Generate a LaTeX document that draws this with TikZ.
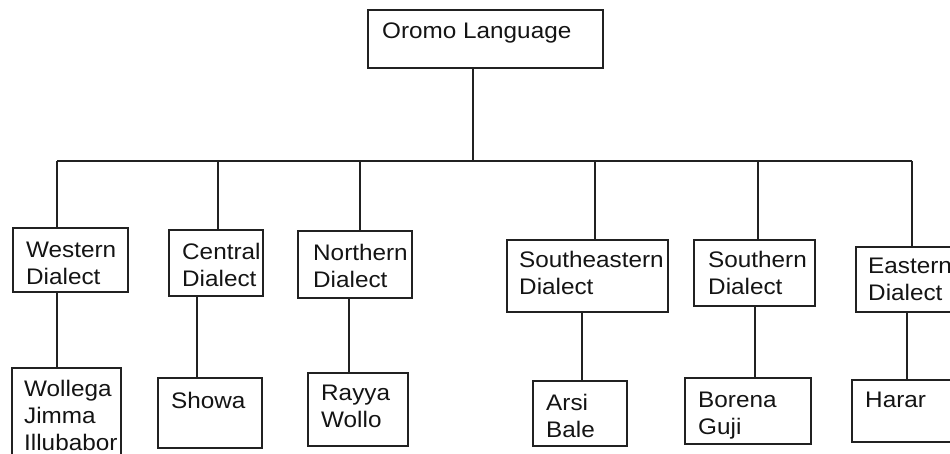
\documentclass[tikz,border=0pt]{standalone}
\usepackage{fontspec}
\setmainfont{Liberation Sans}[FakeStretch=1.08]
\begin{document}
\begin{tikzpicture}[x=1pt,y=-1pt,
  box/.style={draw=black!87, line width=1.1pt, anchor=north west, inner sep=0pt, outer sep=0pt},
  lbl/.style={anchor=north west, inner sep=0pt, align=left, text=black!92, font=\fontsize{22.5}{27}\selectfont},
  link/.style={draw=black!87, line width=1.1pt}]
\useasboundingbox (0,0) rectangle (950,454);
\clip (0,0) rectangle (950,454);
% boxes
\node[box, minimum width=235pt, minimum height=58pt] (top) at (368,10) {};
\node[box, minimum width=115pt, minimum height=64pt] (western) at (13,228) {};
\node[box, minimum width=94pt, minimum height=66pt] (central) at (169,230) {};
\node[box, minimum width=114pt, minimum height=67pt] (northern) at (298,231) {};
\node[box, minimum width=161pt, minimum height=72pt] (southeastern) at (507,240) {};
\node[box, minimum width=121pt, minimum height=66pt] (southern) at (694,240) {};
\node[box, minimum width=104pt, minimum height=65pt] (eastern) at (856,247) {};
\node[box, minimum width=109pt, minimum height=102pt] (wollega) at (12,368) {};
\node[box, minimum width=104pt, minimum height=70pt] (showa) at (158,378) {};
\node[box, minimum width=100pt, minimum height=73pt] (rayya) at (308,373) {};
\node[box, minimum width=94pt, minimum height=65pt] (arsi) at (533,381) {};
\node[box, minimum width=126pt, minimum height=66pt] (borena) at (685,378) {};
\node[box, minimum width=108pt, minimum height=62pt] (harar) at (852,380) {};
% texts
\node[lbl] (topT) at (382,22.5) {Oromo Language};
\node[lbl] (westernT) at (26,241.5) {Western\\Dialect};
\node[lbl] (centralT) at (182,242.5) {Central\\Dialect};
\node[lbl] (northernT) at (313,243.5) {Northern\\Dialect};
\node[lbl] (southeasternT) at (519,251) {Southeastern\\Dialect};
\node[lbl] (southernT) at (708,251) {Southern\\Dialect};
\node[lbl] (easternT) at (868,258) {Eastern\\Dialect};
\node[lbl] (wollegaT) at (24,380) {Wollega\\Jimma\\Illubabor};
\node[lbl] (showaT) at (171,391.5) {Showa};
\node[lbl] (rayyaT) at (321,384.5) {Rayya\\Wollo};
\node[lbl] (arsiT) at (546,393.5) {Arsi\\Bale};
\node[lbl] (borenaT) at (698,391.5) {Borena\\Guji};
\node[lbl] (hararT) at (865,391.5) {Harar};
% bus coordinates
\coordinate (bT) at (473,161);
\coordinate (bW) at (57,161);
\coordinate (bC) at (218,161);
\coordinate (bN) at (360,161);
\coordinate (bSE) at (595,161);
\coordinate (bS) at (758,161);
\coordinate (bE) at (912,161);
% lower link x positions
\coordinate (xW) at (57,0);
\coordinate (xC) at (197,0);
\coordinate (xN) at (349,0);
\coordinate (xSE) at (582,0);
\coordinate (xS) at (755,0);
\coordinate (xE) at (907,0);
% connectors
\draw[link] (top.south -| bT) -- (bT);
\draw[link] (bW) -- (bE);
\draw[link] (bW) -- (western.north -| bW);
\draw[link] (bC) -- (central.north -| bC);
\draw[link] (bN) -- (northern.north -| bN);
\draw[link] (bSE) -- (southeastern.north -| bSE);
\draw[link] (bS) -- (southern.north -| bS);
\draw[link] (bE) -- (eastern.north -| bE);
\draw[link] (western.south -| xW) -- (wollega.north -| xW);
\draw[link] (central.south -| xC) -- (showa.north -| xC);
\draw[link] (northern.south -| xN) -- (rayya.north -| xN);
\draw[link] (southeastern.south -| xSE) -- (arsi.north -| xSE);
\draw[link] (southern.south -| xS) -- (borena.north -| xS);
\draw[link] (eastern.south -| xE) -- (harar.north -| xE);
\end{tikzpicture}
\end{document}
